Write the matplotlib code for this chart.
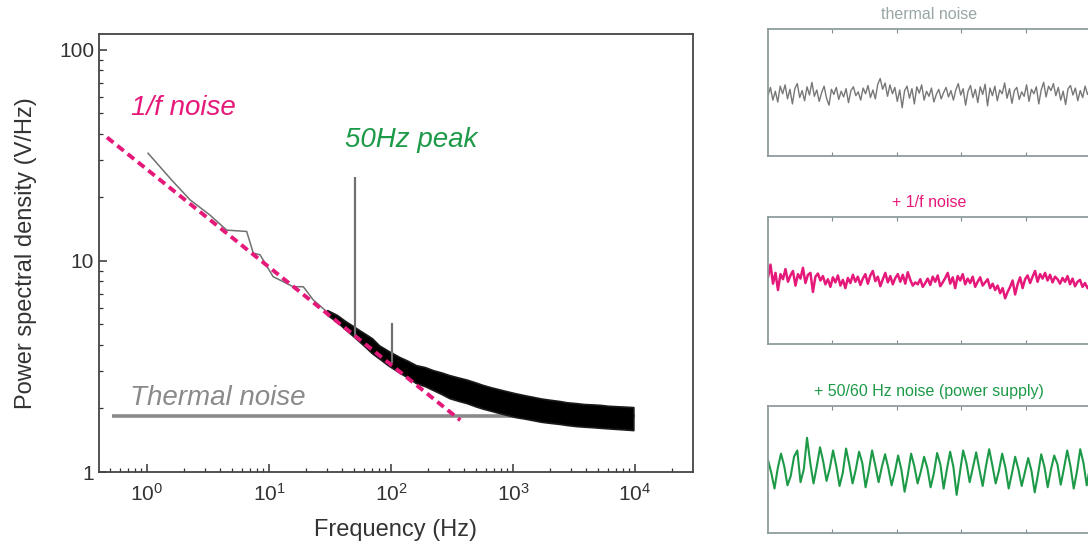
import numpy as np
import matplotlib
matplotlib.use("Agg")
import matplotlib.pyplot as plt
from matplotlib import ticker

plt.rcParams['font.family'] = ['Liberation Sans', 'DejaVu Sans']

# ---- PSD data ----
low_f = [1.02, 1.59, 2.25, 3.28, 4.5, 6.56, 7.43, 8.44, 10.8, 15.8, 19.1, 23.1, 29.7, 38.2, 49.1, 63.2]
low_p = [32.4, 24.2, 19.5, 16.5, 14.0, 13.8, 10.9, 10.7, 8.43, 7.55, 7.55, 6.53, 5.75, 5.25, 4.56, 4.09]

band_f = [30, 36, 42, 48, 55, 62, 70, 80, 95, 118, 135, 160, 190, 220, 260, 300, 360, 418,
          490, 560, 660, 780, 900, 1050, 1250, 1460, 1700, 2000, 2400, 2760, 3300, 3800,
          4500, 5190, 6000, 7000, 8300, 9700]
band_hi = [5.85, 5.55, 5.2, 4.95, 4.7, 4.5, 4.3, 3.98, 3.75, 3.5, 3.38, 3.21, 3.14, 3.04,
           2.96, 2.88, 2.8, 2.74, 2.66, 2.59, 2.52, 2.46, 2.41, 2.36, 2.31, 2.27, 2.23,
           2.2, 2.17, 2.14, 2.12, 2.1, 2.09, 2.08, 2.06, 2.05, 2.04, 2.03]
band_lo = [5.55, 5.15, 4.75, 4.45, 4.15, 3.9, 3.65, 3.45, 3.2, 2.95, 2.82, 2.64, 2.55, 2.45,
           2.34, 2.24, 2.17, 2.12, 2.05, 2.0, 1.95, 1.9, 1.86, 1.82, 1.79, 1.76, 1.73,
           1.71, 1.69, 1.67, 1.65, 1.64, 1.63, 1.62, 1.61, 1.6, 1.59, 1.58]

peak_f = [50.7, 101]
peak_top = [25.0, 5.08]
peak_base = [4.3, 3.3]

pink_f = [0.47, 370]
pink_p = [38.5, 1.76]

thermal_f = [0.52, 10000]
thermal_p = [1.84, 1.84]

# ---- time traces (normalised units, panel range -1..1) ----
thermal_trace = [-0.05, 0.08, -0.12, 0.02, -0.15, 0.10, -0.02, 0.12, -0.10, 0.05,
                 -0.18, 0.06, 0.14, -0.08, 0.03, -0.13, 0.09, -0.04, 0.16, -0.06,
                 0.04, -0.14, 0.00, 0.10, -0.09, -0.20, 0.05, -0.03, 0.08, -0.11,
                 0.02, -0.07, 0.06, -0.16, 0.03, 0.09, -0.05, 0.01, -0.12, 0.07,
                 -0.02, 0.11, -0.08, 0.04, -0.10, 0.13, 0.22, 0.05, 0.15, -0.06,
                 0.12, -0.02, 0.08, -0.14, 0.04, -0.24, 0.03, 0.10, -0.09, 0.06,
                 -0.18, 0.09, -0.01, 0.12, -0.12, 0.02, -0.06, 0.07, -0.15, -0.03,
                 0.05, -0.10, 0.00, 0.08, -0.07, 0.03, -0.12, 0.04, 0.14, -0.04,
                 0.06, -0.20, 0.02, 0.11, -0.08, 0.05, -0.16, 0.09, -0.03, 0.13,
                 -0.21, 0.07, -0.05, 0.10, -0.13, 0.04, -0.02, 0.15, -0.09, 0.06,
                 -0.17, 0.03, 0.08, -0.11, 0.01, -0.06, 0.12, -0.14, 0.05, -0.02,
                 0.09, -0.18, 0.04, 0.16, -0.07, 0.10, 0.03, 0.14, -0.05, 0.08,
                 -0.12, 0.02, -0.19, 0.06, 0.11, -0.04, 0.07, -0.13, 0.03, -0.08,
                 0.10, -0.03, 0.05]

pink_trace = [0.05, 0.25, -0.05, 0.12, -0.15, 0.10, 0.02, 0.18, -0.02, 0.08,
              0.15, -0.08, 0.10, 0.03, 0.20, -0.04, 0.09, 0.12, -0.18, 0.06,
              0.11, 0.00, 0.07, -0.06, 0.02, -0.10, 0.05, -0.03, 0.08, -0.08,
              0.01, -0.12, 0.04, -0.04, 0.09, -0.02, 0.06, -0.07, 0.03, 0.10,
              -0.05, 0.08, 0.15, -0.01, 0.06, -0.09, 0.02, 0.12, -0.03, 0.07,
              -0.06, 0.04, 0.10, -0.02, 0.09, -0.05, 0.13, 0.01, -0.08, -0.03,
              -0.06, 0.02, -0.10, -0.04, 0.03, -0.07, 0.06, -0.02, 0.08, -0.09,
              -0.03, 0.04, 0.12, -0.05, 0.05, -0.12, 0.07, 0.00, 0.10, -0.06,
              0.03, -0.04, 0.06, -0.10, -0.02, 0.05, -0.08, -0.03, 0.02, -0.12,
              -0.05, -0.15, -0.08, -0.20, -0.12, -0.28, -0.18, -0.10, 0.00, -0.22,
              -0.06, 0.05, -0.12, 0.02, 0.08, -0.04, 0.06, 0.15, -0.02, 0.10,
              0.03, 0.12, 0.00, 0.09, -0.03, 0.06, 0.02, -0.05, 0.04, -0.02,
              0.07, -0.06, 0.03, -0.09, -0.02, 0.01, -0.10, -0.04, -0.12, -0.06]

green_trace = [0.15, -0.05, -0.30, 0.02, 0.25, 0.05, -0.25, -0.10,
               0.20, 0.30, -0.20, 0.00, 0.50, 0.10, -0.22, 0.05,
               0.35, 0.12, -0.18, 0.02, 0.30, 0.05, -0.26, -0.05,
               0.33, 0.08, -0.22, 0.00, 0.28, 0.10, -0.28, -0.02,
               0.30, 0.06, -0.20, 0.04, 0.24, 0.02, -0.25, -0.04,
               0.22, 0.00, -0.35, -0.08, 0.25, 0.05, -0.22, -0.03,
               0.20, 0.02, -0.28, -0.06, 0.26, 0.08, -0.30, 0.00,
               0.28, 0.04, -0.40, -0.05, 0.30, 0.10, -0.20, 0.03,
               0.27, 0.00, -0.26, 0.05, 0.32, 0.06, -0.22, -0.02,
               0.25, 0.03, -0.30, -0.06, 0.20, 0.00, -0.26, -0.04,
               0.18, -0.02, -0.36, -0.08, 0.24, 0.04, -0.28, 0.00,
               0.22, 0.08, -0.24, 0.02, 0.30, 0.05, -0.30, -0.03,
               0.32, 0.10, -0.25, 0.05]

PINK = '#e5197a'
GREEN = '#1d9a48'
W, H = 1088, 560

fig = plt.figure(figsize=(W / 100, H / 100), dpi=100)

# ---- main PSD panel ----
ax = fig.add_axes([99 / W, 1 - 472 / H, (693 - 99) / W, (472 - 34) / H])
ax.set_xscale('log')
ax.set_yscale('log')
ax.set_xlim(0.404, 29900)
ax.set_ylim(1, 119)

ax.plot(thermal_f, thermal_p, color='#8a8a8a', lw=2.6, solid_capstyle='butt', zorder=2)
ax.plot(low_f, low_p, color='#707070', lw=1.1, zorder=3)
ax.fill_between(band_f, band_lo, band_hi, color='black', lw=1.2, edgecolor='#1a1a1a', zorder=3)
ax.vlines(peak_f, peak_base, peak_top, color='#707070', lw=1.6, zorder=3)
ax.plot(pink_f, pink_p, color=PINK, lw=2.8, linestyle=(0, (2.1, 1.3)), zorder=4)

ax.text(0.054, 0.831, '1/f noise', transform=ax.transAxes, color=PINK, fontsize=20,
        style='italic', va='center', ha='left')
ax.text(0.414, 0.758, '50Hz peak', transform=ax.transAxes, color=GREEN, fontsize=20,
        style='italic', va='center', ha='left')
ax.text(0.052, 0.169, 'Thermal noise', transform=ax.transAxes, color='#8a8a8a', fontsize=20,
        style='italic', va='center', ha='left')

ax.set_yticks([1, 10, 100])
ax.set_yticklabels(['1', '10', '100'])
ax.yaxis.set_minor_locator(ticker.LogLocator(base=10, subs=np.arange(2, 10), numticks=20))
ax.yaxis.set_minor_formatter(ticker.NullFormatter())
ax.xaxis.set_major_locator(ticker.FixedLocator([1, 10, 100, 1000, 10000]))
ax.xaxis.set_minor_locator(ticker.LogLocator(base=10, subs=np.arange(2, 10), numticks=20))
ax.xaxis.set_minor_formatter(ticker.NullFormatter())
ax.tick_params(which='both', direction='in', colors='#333', labelsize=15,
               top=False, right=False)
ax.tick_params(which='major', length=6, width=1.1)
ax.tick_params(which='minor', length=3, width=0.9)
ax.tick_params(axis='x', pad=8)
for s in ax.spines.values():
    s.set_color('#444')
    s.set_linewidth(1.3)
ax.set_xlabel('Frequency (Hz)', fontsize=17, color='#333', labelpad=10)
ax.set_ylabel('Power spectral density (V/Hz)', fontsize=17, color='#333', labelpad=16)

# ---- time trace panels ----
panels = [
    (29, 156, thermal_trace, '#777777', 'thermal noise', '#9aa6a6', 1.0),
    (217, 344, pink_trace, PINK, '+ 1/f noise', PINK, 1.8),
    (406, 533, green_trace, GREEN, '+ 50/60 Hz noise (power supply)', GREEN, 1.5),
]
for top, bot, trace, col, title, tcol, lw in panels:
    a = fig.add_axes([768 / W, 1 - bot / H, (1090 - 768) / W, (bot - top) / H])
    xs = np.linspace(0, 1, len(trace))
    a.plot(xs, trace, color=col, lw=lw)
    a.set_xlim(0, 1)
    a.set_ylim(-1, 1)
    a.set_xticks([0.2, 0.4, 0.6, 0.8])
    a.set_yticks([])
    a.tick_params(axis='x', direction='in', top=True, bottom=True, length=3,
                  colors='#7f8c8d', labelbottom=False)
    for s in a.spines.values():
        s.set_color('#8f9c9e')
        s.set_linewidth(1.3)
    a.set_title(title, color=tcol, fontsize=11.5, pad=7)

fig.savefig('out.png', dpi=100)
